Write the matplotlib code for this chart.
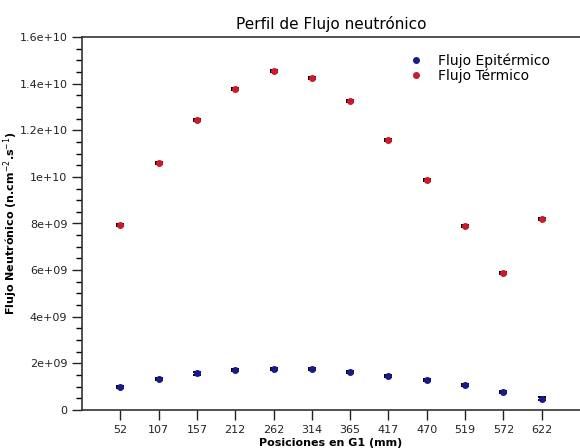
import matplotlib.pyplot as plt
from matplotlib.lines import Line2D
from matplotlib.ticker import MultipleLocator, FuncFormatter

# posiciones en G1 (mm)
posiciones = ['52', '107', '157', '212', '262', '314', '365', '417', '470', '519', '572', '622']
flujo_termico = [7.94e9, 10.6e9, 12.45e9, 13.78e9, 14.55e9, 14.25e9,
                 13.26e9, 11.59e9, 9.87e9, 7.9e9, 5.88e9, 8.2e9]
flujo_epitermico = [1.0e9, 1.33e9, 1.57e9, 1.72e9, 1.76e9, 1.76e9,
                    1.63e9, 1.46e9, 1.29e9, 1.06e9, 0.76e9, 0.49e9]
err_termico = [0.5e8] * 12
err_epitermico = [0.5e8] * 12

col_epi = '#1a1a8c'
col_ter = '#cc1a2a'

plt.rcParams['font.family'] = 'DejaVu Sans'

fig = plt.figure(figsize=(5.8, 4.48), dpi=100)
ax = fig.add_axes([82 / 580, 38 / 448, 498 / 580, 373 / 448])

x = list(range(1, len(posiciones) + 1))

ax.errorbar(x, flujo_epitermico, yerr=err_epitermico, fmt='o', color=col_epi,
            ms=4, ecolor='black', elinewidth=1.2, capsize=3, capthick=1.4, zorder=3)
ax.errorbar(x, flujo_termico, yerr=err_termico, fmt='o', color=col_ter,
            ms=4, ecolor='black', elinewidth=1.2, capsize=3, capthick=1.4, zorder=3)

ax.set_xlim(0, 13)
ax.set_ylim(0, 1.6e10)
ax.set_xticks(x)
ax.set_xticklabels(posiciones)
ax.yaxis.set_major_locator(MultipleLocator(2e9))
ax.yaxis.set_minor_locator(MultipleLocator(5e8))


def fmt(v, pos):
    if v == 0:
        return '0'
    exp = len(str(int(v))) - 1
    mant = v / 10 ** exp
    return '%ge+%02d' % (mant, exp)


ax.yaxis.set_major_formatter(FuncFormatter(fmt))
ax.tick_params(axis='both', which='major', direction='out', length=7, width=1,
               labelsize=8, colors='#222222')
ax.tick_params(axis='y', which='minor', direction='out', length=4, width=1)
ax.tick_params(axis='x', pad=4)

for s in ['left', 'bottom', 'top']:
    ax.spines[s].set_linewidth(1.2)
    ax.spines[s].set_color('#333333')
ax.spines['right'].set_visible(False)

ax.set_title('Perfil de Flujo neutrónico', fontsize=11, pad=6)
ax.set_xlabel('Posiciones en G1 (mm)', fontsize=8, fontweight='bold')
ax.xaxis.set_label_coords(0.5, -0.075)
ax.set_ylabel('Flujo Neutrónico (n.cm$^{-2}$.s$^{-1}$)', fontsize=8,
              fontweight='bold')
ax.yaxis.set_label_coords(-62 / 498, 0.5)

handles = [Line2D([], [], ls='none', marker='o', ms=4, color=col_epi),
           Line2D([], [], ls='none', marker='o', ms=4, color=col_ter)]
ax.legend(handles, ['Flujo Epitérmico', 'Flujo Térmico'], loc='upper right',
          bbox_to_anchor=(0.965, 0.99), frameon=False, fontsize=10,
          handletextpad=0.6, labelspacing=0.05)

fig.savefig('out.png', dpi=100)
